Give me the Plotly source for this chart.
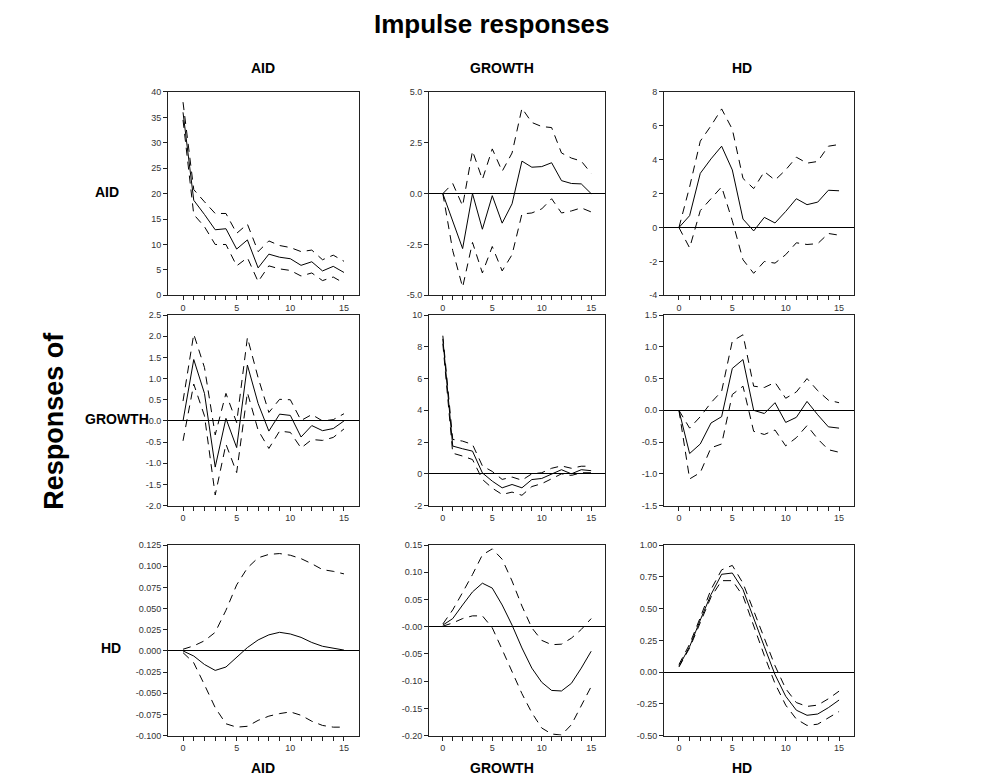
import plotly.graph_objects as go

# ---------------- data ----------------
horizon = list(range(16))
shock_names = ["AID", "GROWTH", "HD"]
response_names = ["AID", "GROWTH", "HD"]

# responses of AID
aid_aid_mid = [36.0, 18.7, 15.9, 12.9, 13.1, 9.1, 10.9, 5.4, 8.1, 7.5, 7.2, 5.9, 6.6, 4.8, 5.7, 4.5]
aid_aid_hi = [38.0, 20.8, 18.4, 16.1, 16.1, 12.2, 14.0, 8.6, 10.7, 9.8, 9.4, 8.6, 8.9, 7.0, 7.9, 6.7]
aid_aid_lo = [34.5, 15.9, 13.5, 10.0, 10.0, 5.8, 7.4, 2.7, 5.8, 5.2, 4.9, 3.8, 4.4, 2.9, 3.6, 2.4]

aid_growth_mid = [0.0, -1.35, -2.7, 0.0, -1.75, -0.1, -1.45, -0.5, 1.6, 1.3, 1.33, 1.52, 0.64, 0.5, 0.48, 0.0]
aid_growth_hi = [0.0, 0.5, -0.6, 2.1, 0.7, 2.2, 1.1, 2.0, 4.2, 3.5, 3.3, 3.25, 2.0, 1.75, 1.6, 1.0]
aid_growth_lo = [0.0, -2.8, -4.6, -2.4, -3.9, -2.6, -3.8, -3.0, -1.0, -0.95, -0.75, -0.25, -0.95, -0.85, -0.7, -0.9]

aid_hd_mid = [0.0, 0.7, 3.2, 4.05, 4.8, 3.4, 0.5, -0.2, 0.6, 0.27, 0.95, 1.7, 1.35, 1.5, 2.2, 2.17]
aid_hd_hi = [0.0, 2.4, 5.1, 6.0, 7.0, 5.8, 2.9, 2.3, 3.3, 2.8, 3.4, 4.15, 3.8, 3.9, 4.8, 4.9]
aid_hd_lo = [0.0, -1.2, 1.0, 1.7, 2.4, 0.4, -1.9, -2.7, -2.0, -2.1, -1.6, -0.9, -1.0, -0.95, -0.35, -0.45]

# responses of GROWTH
growth_aid_mid = [0.0, 1.45, 0.65, -1.09, 0.06, -0.63, 1.32, 0.41, -0.24, 0.16, 0.13, -0.38, -0.11, -0.23, -0.18, 0.0]
growth_aid_hi = [0.47, 2.05, 1.26, -0.33, 0.65, -0.04, 1.97, 1.02, 0.2, 0.51, 0.5, 0.01, 0.15, 0.0, 0.03, 0.17]
growth_aid_lo = [-0.47, 0.87, 0.12, -1.75, -0.55, -1.22, 0.67, -0.22, -0.65, -0.24, -0.27, -0.64, -0.44, -0.46, -0.39, -0.19]

growth_growth_mid = [8.5, 1.75, 1.58, 1.43, 0.06, -0.46, -0.88, -0.67, -0.88, -0.36, -0.29, 0.0, 0.26, 0.0, 0.26, 0.2]
growth_growth_hi = [8.7, 2.17, 2.06, 1.85, 0.5, 0.15, -0.35, -0.2, -0.4, 0.0, 0.07, 0.35, 0.5, 0.35, 0.48, 0.48]
growth_growth_lo = [8.2, 1.3, 1.12, 0.9, -0.35, -0.9, -1.3, -1.15, -1.35, -0.8, -0.62, -0.3, 0.0, -0.1, 0.07, 0.07]

growth_hd_mid = [0.0, -0.68, -0.53, -0.2, -0.1, 0.66, 0.8, 0.0, -0.05, 0.12, -0.19, -0.11, 0.14, -0.07, -0.26, -0.28]
growth_hd_hi = [0.0, -0.28, -0.1, 0.12, 0.3, 1.09, 1.19, 0.38, 0.36, 0.44, 0.19, 0.29, 0.5, 0.31, 0.16, 0.12]
growth_hd_lo = [0.0, -1.08, -0.98, -0.59, -0.53, 0.25, 0.38, -0.33, -0.38, -0.31, -0.56, -0.43, -0.24, -0.45, -0.62, -0.66]

# responses of HD
hd_aid_mid = [0.0, -0.006, -0.016, -0.023, -0.019, -0.008, 0.004, 0.013, 0.019, 0.022, 0.020, 0.016, 0.010, 0.0055, 0.003, 0.001]
hd_aid_hi = [0.002, 0.006, 0.012, 0.022, 0.048, 0.078, 0.098, 0.110, 0.114, 0.115, 0.113, 0.109, 0.103, 0.096, 0.094, 0.091]
hd_aid_lo = [-0.002, -0.014, -0.040, -0.067, -0.086, -0.090, -0.089, -0.082, -0.077, -0.074, -0.072, -0.076, -0.083, -0.088, -0.090, -0.090]

hd_growth_mid = [0.003, 0.015, 0.040, 0.064, 0.080, 0.071, 0.040, 0.003, -0.039, -0.076, -0.102, -0.117, -0.118, -0.104, -0.076, -0.045]
hd_growth_hi = [0.005, 0.031, 0.063, 0.096, 0.132, 0.143, 0.124, 0.084, 0.038, -0.002, -0.025, -0.033, -0.032, -0.021, -0.005, 0.015]
hd_growth_lo = [0.001, 0.007, 0.015, 0.020, 0.020, -0.002, -0.042, -0.082, -0.123, -0.158, -0.186, -0.197, -0.199, -0.180, -0.145, -0.110]

hd_hd_mid = [0.047, 0.20, 0.41, 0.61, 0.77, 0.78, 0.65, 0.42, 0.20, -0.02, -0.19, -0.30, -0.34, -0.33, -0.28, -0.22]
hd_hd_hi = [0.06, 0.22, 0.43, 0.65, 0.805, 0.84, 0.70, 0.48, 0.27, 0.05, -0.13, -0.24, -0.27, -0.26, -0.21, -0.15]
hd_hd_lo = [0.04, 0.19, 0.39, 0.59, 0.72, 0.72, 0.60, 0.36, 0.13, -0.09, -0.26, -0.37, -0.42, -0.41, -0.36, -0.31]

# y tick values / labels per panel
yt_aid_aid = [0, 5, 10, 15, 20, 25, 30, 35, 40]
yl_aid_aid = ["0", "5", "10", "15", "20", "25", "30", "35", "40"]
yt_aid_growth = [-5, -2.5, 0, 2.5, 5]
yl_aid_growth = ["-5.0", "-2.5", "0.0", "2.5", "5.0"]
yt_aid_hd = [-4, -2, 0, 2, 4, 6, 8]
yl_aid_hd = ["-4", "-2", "0", "2", "4", "6", "8"]
yt_growth_aid = [-2.0, -1.5, -1.0, -0.5, 0.0, 0.5, 1.0, 1.5, 2.0, 2.5]
yl_growth_aid = ["-2.0", "-1.5", "-1.0", "-0.5", "0.0", "0.5", "1.0", "1.5", "2.0", "2.5"]
yt_growth_growth = [-2, 0, 2, 4, 6, 8, 10]
yl_growth_growth = ["-2", "0", "2", "4", "6", "8", "10"]
yt_growth_hd = [-1.5, -1.0, -0.5, 0.0, 0.5, 1.0, 1.5]
yl_growth_hd = ["-1.5", "-1.0", "-0.5", "0.0", "0.5", "1.0", "1.5"]
yt_hd_aid = [-0.1, -0.075, -0.05, -0.025, 0.0, 0.025, 0.05, 0.075, 0.1, 0.125]
yl_hd_aid = ["-0.100", "-0.075", "-0.050", "-0.025", "0.000", "0.025", "0.050", "0.075", "0.100", "0.125"]
yt_hd_growth = [-0.2, -0.15, -0.1, -0.05, 0.0, 0.05, 0.1, 0.15]
yl_hd_growth = ["-0.20", "-0.15", "-0.10", "-0.05", "-0.00", "0.05", "0.10", "0.15"]
yt_hd_hd = [-0.5, -0.25, 0.0, 0.25, 0.5, 0.75, 1.0]
yl_hd_hd = ["-0.50", "-0.25", "0.00", "0.25", "0.50", "0.75", "1.00"]

x_tick_labels = ["0", "", "", "", "", "5", "", "", "", "", "10", "", "", "", "", "15"]

panels = [
    [(aid_aid_mid, aid_aid_hi, aid_aid_lo, yt_aid_aid, yl_aid_aid),
     (aid_growth_mid, aid_growth_hi, aid_growth_lo, yt_aid_growth, yl_aid_growth),
     (aid_hd_mid, aid_hd_hi, aid_hd_lo, yt_aid_hd, yl_aid_hd)],
    [(growth_aid_mid, growth_aid_hi, growth_aid_lo, yt_growth_aid, yl_growth_aid),
     (growth_growth_mid, growth_growth_hi, growth_growth_lo, yt_growth_growth, yl_growth_growth),
     (growth_hd_mid, growth_hd_hi, growth_hd_lo, yt_growth_hd, yl_growth_hd)],
    [(hd_aid_mid, hd_aid_hi, hd_aid_lo, yt_hd_aid, yl_hd_aid),
     (hd_growth_mid, hd_growth_hi, hd_growth_lo, yt_hd_growth, yl_hd_growth),
     (hd_hd_mid, hd_hd_hi, hd_hd_lo, yt_hd_hd, yl_hd_hd)],
]

# ---------------- layout geometry (pixels) ----------------
W, H = 982, 780
col_px = [(160, 351), (421, 597), (656, 846)]
row_px = [(80, 286), (306, 499), (539, 732)]
header_x = [255, 494, 734]
FONT = "Liberation Sans, Arial, sans-serif"

fig = go.Figure()
layout = dict(
    width=W, height=H,
    margin=dict(l=0, r=0, t=0, b=0),
    paper_bgcolor="white", plot_bgcolor="white",
    showlegend=False,
    font=dict(family=FONT, color="#222"),
)

k = 0
for r in range(3):
    for c in range(3):
        k += 1
        mid, hi, lo, yt, yl = panels[r][c]
        xa = "x" if k == 1 else f"x{k}"
        ya = "y" if k == 1 else f"y{k}"
        for series, dash in ((hi, "8px,6px"), (lo, "8px,6px"), (mid, "solid")):
            fig.add_trace(go.Scatter(
                x=horizon, y=series, mode="lines", xaxis=xa, yaxis=ya,
                line=dict(color="black", width=1, dash=dash),
                hoverinfo="skip"))
        x0, x1 = col_px[c]
        y0, y1 = row_px[r]
        layout["xaxis" if k == 1 else f"xaxis{k}"] = dict(
            domain=[x0 / W, x1 / W], anchor=ya,
            range=[-1.4, 16.4], tickmode="array", tickvals=horizon,
            ticktext=x_tick_labels, ticks="outside", ticklen=4, tickwidth=1,
            tickcolor="#222", showgrid=False, zeroline=False,
            showline=True, mirror=True, linecolor="#222", linewidth=1,
            tickfont=dict(size=9, color="#333", family=FONT),
        )
        layout["yaxis" if k == 1 else f"yaxis{k}"] = dict(
            domain=[1 - y1 / H, 1 - y0 / H], anchor=xa,
            range=[yt[0], yt[-1]], tickmode="array", tickvals=yt, ticktext=yl,
            ticks="outside", ticklen=4, tickwidth=1, tickcolor="#222",
            showgrid=False, zeroline=True, zerolinecolor="black", zerolinewidth=1,
            showline=True, mirror=True, linecolor="#222", linewidth=1,
            tickfont=dict(size=9, color="#333", family=FONT),
        )

annotations = []
annotations.append(dict(text="<b>Impulse responses</b>", x=484 / W, y=1 - 11 / H,
                        xref="paper", yref="paper", showarrow=False,
                        font=dict(size=26, family=FONT, color="black"),
                        xanchor="center", yanchor="middle"))
for c, name in enumerate(shock_names):
    cx = header_x[c] / W
    annotations.append(dict(text=f"<b>{name}</b>", x=cx, y=1 - 56 / H, xref="paper", yref="paper",
                            showarrow=False, font=dict(size=14, family=FONT, color="black"),
                            xanchor="center", yanchor="middle"))
    annotations.append(dict(text=f"<b>{name}</b>", x=cx, y=1 - 765 / H, xref="paper", yref="paper",
                            showarrow=False, font=dict(size=14, family=FONT, color="black"),
                            xanchor="center", yanchor="middle"))
row_label_x = [99, 109, 103]
row_label_y = [181, 411, 643]
for r, name in enumerate(response_names):
    annotations.append(dict(text=f"<b>{name}</b>", x=row_label_x[r] / W, y=1 - row_label_y[r] / H,
                            xref="paper", yref="paper", showarrow=False,
                            font=dict(size=14, family=FONT, color="black"),
                            xanchor="center", yanchor="middle"))
annotations.append(dict(text="<b>Responses of</b>", x=46 / W, y=1 - 413 / H, xref="paper", yref="paper",
                        showarrow=False, textangle=-90,
                        font=dict(size=27, family=FONT, color="black"),
                        xanchor="center", yanchor="middle"))
layout["annotations"] = annotations

fig.update_layout(**layout)
fig.write_html("out.html")
